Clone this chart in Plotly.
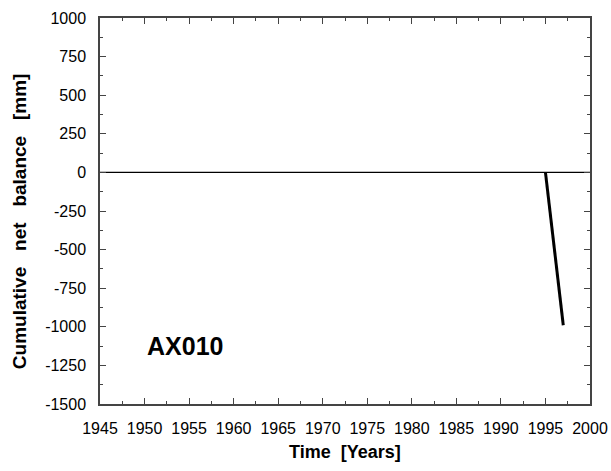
import plotly.graph_objects as go

# Cumulative net balance series for glacier AX010
years = [1995, 1997]
cum_balance = [0, -990]
glacier_name = "AX010"

x_ticks = [1945, 1950, 1955, 1960, 1965, 1970, 1975, 1980, 1985, 1990, 1995, 2000]
y_ticks = [1000, 750, 500, 250, 0, -250, -500, -750, -1000, -1250, -1500]

axis_color = "#444444"
font_family = "Arial, Liberation Sans, sans-serif"

fig = go.Figure()

# zero reference line
fig.add_trace(go.Scatter(
    x=[x_ticks[0], x_ticks[-1]], y=[0, 0], mode="lines",
    line=dict(color="black", width=1.2), hoverinfo="skip", showlegend=False,
))

fig.add_trace(go.Scatter(
    x=years, y=cum_balance, mode="lines",
    line=dict(color="black", width=3), showlegend=False,
))

fig.add_annotation(
    x=1954.5, y=-1125, text="<b>" + glacier_name + "</b>", showarrow=False,
    font=dict(family=font_family, size=25, color="black"),
)

# axis titles
fig.add_annotation(
    xref="paper", yref="paper", x=0.5, y=-0.124, yanchor="middle",
    text="<b>Time  [Years]</b>", showarrow=False,
    font=dict(family=font_family, size=18, color="black"),
)
fig.add_annotation(
    xref="paper", yref="paper", x=-0.165, y=0.474, xanchor="center", yanchor="middle",
    text="<b>Cumulative   net   balance   [mm]</b>", textangle=-90, showarrow=False,
    font=dict(family=font_family, size=19, color="black"),
)

common = dict(
    showline=True, linecolor=axis_color, linewidth=1.5, mirror="allticks",
    ticks="inside", ticklen=6, tickcolor=axis_color, tickwidth=1,
    showgrid=False, zeroline=False, automargin=False, ticklabelstandoff=9,
    tickfont=dict(family=font_family, size=16, color="black"),
)

fig.update_xaxes(
    range=[x_ticks[0], x_ticks[-1]], tickvals=x_ticks,
    ticktext=[str(v) for v in x_ticks],
    minor=dict(ticks="inside", ticklen=3, dtick=2.5, tickcolor=axis_color, showgrid=False),
    **common,
)
fig.update_yaxes(
    range=[y_ticks[-1], y_ticks[0]], tickvals=y_ticks,
    ticktext=[str(v) for v in y_ticks],
    minor=dict(ticks="inside", ticklen=3, dtick=125, tickcolor=axis_color, showgrid=False),
    **common,
)

fig.update_layout(
    width=611, height=471,
    margin=dict(l=100, r=21, t=18, b=67),
    plot_bgcolor="white", paper_bgcolor="white",
)

fig.write_html("out.html")
